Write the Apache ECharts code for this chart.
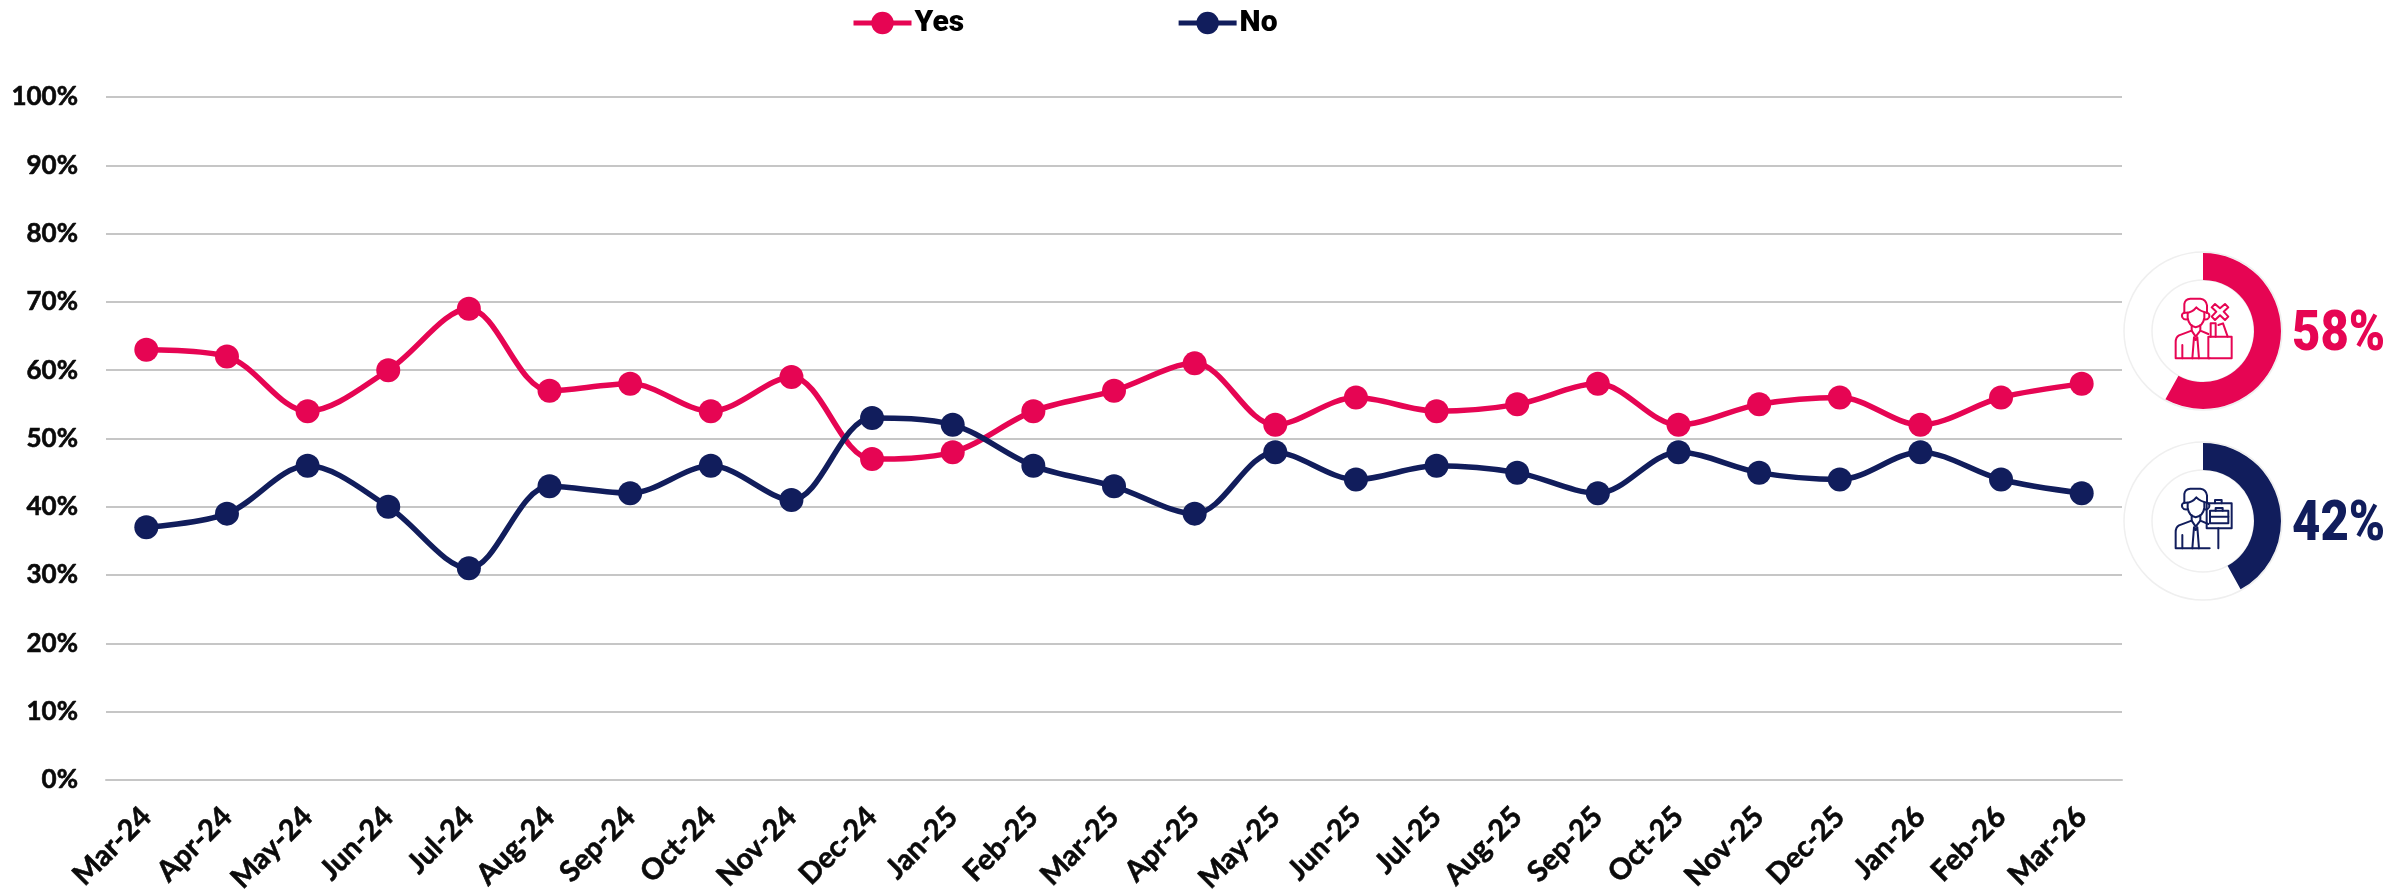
<!DOCTYPE html>
<html><head><meta charset="utf-8">
<style>html,body{margin:0;padding:0;background:#fff}#c{width:2397px;height:893px}</style>
<script src="https://cdn.jsdelivr.net/npm/echarts@6/dist/echarts.min.js"></script>
</head><body><div id="c"></div>
<script>
const categories = ['Mar-24','Apr-24','May-24','Jun-24','Jul-24','Aug-24','Sep-24','Oct-24','Nov-24','Dec-24','Jan-25','Feb-25','Mar-25','Apr-25','May-25','Jun-25','Jul-25','Aug-25','Sep-25','Oct-25','Nov-25','Dec-25','Jan-26','Feb-26','Mar-26'];
const yesValues = [63,62,54,60,69,57,58,54,59,47,48,54,57,61,52,56,54,55,58,52,55,56,52,56,58];
const noValues  = [37,39,46,40,31,43,42,46,41,53,52,46,43,39,48,44,46,45,42,48,45,44,48,44,42];
const yesShare = [58,42];
const noShare = [42,58];
const PINK = '#E60553', NAVY = '#111D5C', GRID = '#C6C6C6';
const AXIS_FONT = 'Lato', LABEL_FONT = 'Roboto';

const personPaths = [
 'M58 68L58 42Q60 27 76 26L106 26Q123 28 126 46L126 68',
 'M58 68Q80 70 94 52Q106 64 126 68',
 'M68 68L68 84Q72 108 92 112Q114 108 118 84L118 68',
 'M58 68Q48 72 52 82Q56 90 68 88',
 'M126 68Q136 72 132 82Q128 90 118 88',
 'M80 106L80 122L42 136Q32 142 32 156L32 205L134 205',
 'M106 106L106 122L130 132',
 'M80 122L92 140L106 122',
 'M87 142L82 205M97 142L102 205M87 142L92 150L97 142',
 'M52 165L52 205'
];
const pinkExtras = [
 'M130 140L200 140L200 205L130 205Z',
 'M137 140L137 100L152 100L152 140',
 'M160 105L174 100L188 140',
 'M150 42L165 55L180 42L190 52L176 65L190 80L180 90L165 76L150 90L140 80L154 65L140 52Z'
];
const navyExtras = [
 'M125 70L200 70L200 145L125 145Z',
 'M150 70L150 60L170 60L170 70',
 'M135 92L190 92L190 130L135 130Z',
 'M135 110L190 110',
 'M152 92L152 84L173 84L173 92',
 'M160 145L160 205'
];
let shapeCount = 0;
function pathEl(d, color) {
  const type = 'iconPath' + (shapeCount++);
  echarts.graphic.registerShape(type, echarts.graphic.extendPath(d, {}));
  return { type, style: { stroke: color, fill: null, lineWidth: 6, lineCap: 'round', lineJoin: 'round' } };
}
function icon(x, y, color, extras) {
  return {
    type: 'group', x, y, scaleX: 1/3, scaleY: 1/3, z: 20, silent: true,
    children: personPaths.concat(extras).map(d => pathEl(d, color))
  };
}
function ring(cx, cy, r) {
  return { type: 'circle', z: 1, silent: true, shape: { cx, cy, r }, style: { fill: null, stroke: '#EFEFEF', lineWidth: 1.5 } };
}
function bigText(x, y, text, color) {
  return { type: 'text', x, y, scaleY: 1.12, z: 20, style: { text, fill: color, font: '900 49px ' + LABEL_FONT, verticalAlign: 'middle', align: 'left' } };
}
function donut(name, values, color, cy) {
  return {
    type: 'pie', name, center: [2203, cy], radius: [51, 78], startAngle: 90, clockwise: true,
    silent: true, z: 5, label: { show: false }, labelLine: { show: false },
    data: [
      { name: name + ' share', value: values[0], itemStyle: { color } },
      { name: name + ' rest', value: values[1], itemStyle: { color: 'rgba(0,0,0,0)' } }
    ]
  };
}
function lineSeries(name, data, color) {
  return {
    type: 'line', name, data, smooth: 0.33, symbol: 'circle', symbolSize: 24, showSymbol: true,
    lineStyle: { color, width: 5.5 }, itemStyle: { color }, z: 3
  };
}
const chart = echarts.init(document.getElementById('c'), null, { renderer: 'canvas' });
chart.setOption({
  animation: false,
  backgroundColor: '#fff',
  legend: {
    data: ['Yes', 'No'], left: 846, top: 3, itemWidth: 58, itemHeight: 28, itemGap: 212,
    lineStyle: { width: 5 },
    textStyle: { fontFamily: LABEL_FONT, fontWeight: 900, fontSize: 30, color: '#000', padding: [0,0,0,-2] }
  },
  grid: { left: 106, right: 275, top: 97, height: 683, containLabel: false, outerBoundsMode: 'none' },
  xAxis: {
    type: 'category', data: categories, boundaryGap: true,
    axisLine: { show: true, lineStyle: { color: GRID, width: 2 } }, axisTick: { show: false },
    axisLabel: { rotate: 45, interval: 0, margin: 32, fontFamily: AXIS_FONT, fontWeight: 700, fontSize: 29, color: '#0a0a0a', textBorderColor: '#0a0a0a', textBorderWidth: 0.6 }
  },
  yAxis: {
    type: 'value', min: 0, max: 100, interval: 10,
    axisLine: { show: false }, axisTick: { show: false },
    axisLabel: { formatter: '{value}%', margin: 28, fontFamily: AXIS_FONT, fontWeight: 700, fontSize: 26, color: '#0a0a0a', textBorderColor: '#0a0a0a', textBorderWidth: 0.6 },
    splitLine: { lineStyle: { color: GRID, width: 2 } }
  },
  series: [
    lineSeries('Yes', yesValues, PINK),
    lineSeries('No', noValues, NAVY),
    donut('Yes donut', yesShare, PINK, 331),
    donut('No donut', noShare, NAVY, 521)
  ],
  graphic: { elements: [
    ring(2203, 331, 79), ring(2203, 331, 51),
    ring(2203, 521, 79), ring(2203, 521, 51),
    icon(2165, 290, PINK, pinkExtras),
    icon(2165, 480, NAVY, navyExtras),
    bigText(2292, 336, yesShare[0] + '%', PINK),
    bigText(2292, 526, noShare[0] + '%', NAVY)
  ] }
});
</script></body></html>
